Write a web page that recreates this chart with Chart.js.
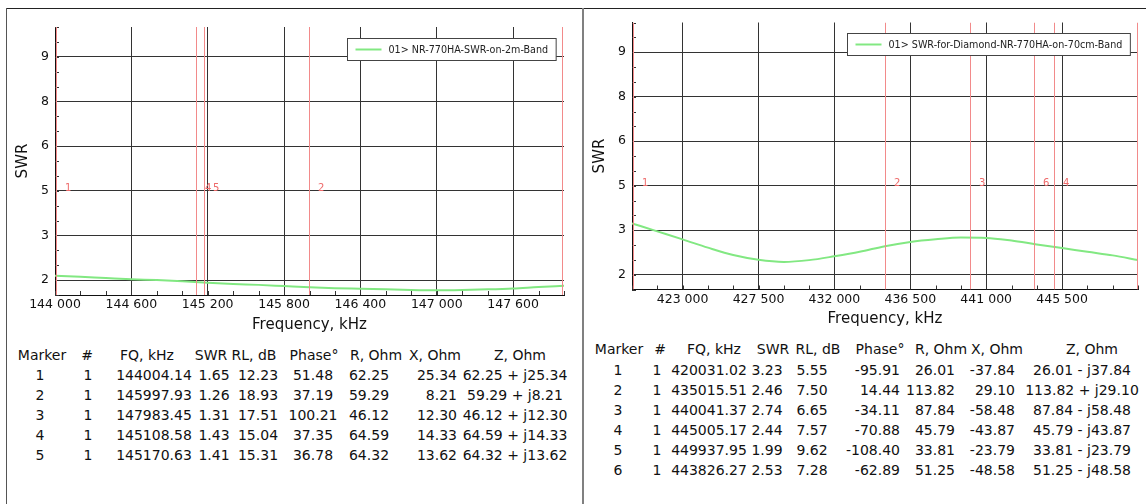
<!DOCTYPE html>
<html><head><meta charset="utf-8">
<script src="https://cdn.jsdelivr.net/npm/chart.js@4/dist/chart.umd.min.js"></script>
<style>
html,body{margin:0;padding:0;background:#fff;width:1146px;height:504px;overflow:hidden;font-family:"DejaVu Sans",sans-serif;}
#frameTop{position:absolute;left:6px;top:8px;width:1140px;height:1px;background:#222;}
#frameLeft{position:absolute;left:6px;top:8px;width:1px;height:496px;background:#555;}
#sep{position:absolute;left:582px;top:8px;width:2px;height:496px;background:#808080;}
.cv{position:absolute;}
.cell{position:absolute;font-size:14px;color:#111;white-space:pre;line-height:18px;height:18px;}
</style></head><body>
<div id="frameTop"></div><div id="frameLeft"></div><div id="sep"></div>
<div class="cv" style="left:8px;top:9px;width:572px;height:330px;"><canvas id="c1" width="572" height="330"></canvas></div>
<div class="cv" style="left:585px;top:9px;width:561px;height:330px;"><canvas id="c2" width="561" height="330"></canvas></div>
<div id="tables"></div>
<script>
// ---------- data: 2m band ----------
const leftLabel = '01> NR-770HA-SWR-on-2m-Band';
const leftFreq = [144000,144200,144400,144600,144800,145000,145200,145400,145600,145800,146000,146200,146400,146600,146800,147000,147200,147400,147600,147800,148000];
const leftSwr  = [1.65,1.61,1.57,1.53,1.50,1.46,1.41,1.37,1.34,1.30,1.26,1.23,1.21,1.19,1.17,1.16,1.17,1.19,1.22,1.27,1.31];
const leftXTicks = [144000,144600,145200,145800,146400,147000,147600];
const leftXTickLabels = ['144 000','144 600','145 200','145 800','146 400','147 000','147 600'];

// ---------- data: 70cm band ----------
const rightLabel = '01> SWR-for-Diamond-NR-770HA-on-70cm-Band';
const rightFreq = [420000,421500,423000,424500,426000,427500,429000,430500,432000,433500,435000,436500,438000,439500,441000,442500,444000,445500,447000,448500,450000];
const rightSwr  = [3.23,2.96,2.69,2.41,2.16,2.00,1.93,1.99,2.12,2.27,2.46,2.60,2.69,2.75,2.74,2.65,2.52,2.40,2.27,2.15,1.99];
const rightXTicks = [423000,427500,432000,436500,441000,445500];
const rightXTickLabels = ['423 000','427 500','432 000','436 500','441 000','445 500'];

// ---------- shared y axis ----------
const yTicks = [1.5,3,4.5,6,7.5,9];
const yTickLabels = ['2','3','5','6','8','9'];

// ---------- marker tables ----------
const tableHeaders = ['Marker','#','FQ, kHz','SWR','RL, dB','Phase°','R, Ohm','X, Ohm','Z, Ohm'];

const leftMarkers = [1,2,3,4,5];
const leftMarkerSet = [1,1,1,1,1];
const leftMarkerFq = [144004.14,145997.93,147983.45,145108.58,145170.63];
const leftMarkerSwr = [1.65,1.26,1.31,1.43,1.41];
const leftMarkerRl = [12.23,18.93,17.51,15.04,15.31];
const leftMarkerPhase = [51.48,37.19,100.21,37.35,36.78];
const leftMarkerR = [62.25,59.29,46.12,64.59,64.32];
const leftMarkerX = [25.34,8.21,12.30,14.33,13.62];

const rightMarkers = [1,2,3,4,5,6];
const rightMarkerSet = [1,1,1,1,1,1];
const rightMarkerFq = [420031.02,435015.51,440041.37,445005.17,449937.95,443826.27];
const rightMarkerSwr = [3.23,2.46,2.74,2.44,1.99,2.53];
const rightMarkerRl = [5.55,7.50,6.65,7.57,9.62,7.28];
const rightMarkerPhase = [-95.91,14.44,-34.11,-70.88,-108.40,-62.89];
const rightMarkerR = [26.01,113.82,87.84,45.79,33.81,51.25];
const rightMarkerX = [-37.84,29.10,-58.48,-43.87,-23.79,-48.58];

// ---------- styling ----------
const FONT = '"DejaVu Sans", sans-serif';
const GREEN = '#82e882';
const MARKER_RED = '#f28a8a';

const overlay = {
  id: 'overlay',
  afterDatasetsDraw(chart, args, o) {
    const {ctx, chartArea: ca, scales: {x, y}} = chart;
    ctx.save();
    ctx.strokeStyle = '#333'; ctx.lineWidth = 1;
    ctx.beginPath();
    for (let v = x.min; v <= x.max + 1e-6; v += o.xMinor) {
      const px = Math.round(x.getPixelForValue(v)) + 0.5;
      ctx.moveTo(px, ca.bottom); ctx.lineTo(px, ca.bottom - 4);
    }
    for (let v = y.min; v <= y.max + 1e-6; v += 0.5) {
      const py = Math.round(y.getPixelForValue(v)) + 0.5;
      ctx.moveTo(ca.left, py); ctx.lineTo(ca.left + 4, py);
    }
    ctx.stroke();
    ctx.beginPath(); ctx.rect(ca.left - 1, ca.top, ca.width + 1, ca.height); ctx.clip();
    ctx.strokeStyle = MARKER_RED; ctx.lineWidth = 1;
    ctx.fillStyle = '#ee6a6a';
    ctx.font = '10px ' + FONT; ctx.textBaseline = 'middle'; ctx.textAlign = 'left';
    const ly = y.getPixelForValue(4.5) - 2;
    o.markers.forEach((f, i) => {
      const px = Math.round(x.getPixelForValue(f)) + 0.5;
      ctx.beginPath(); ctx.moveTo(px, ca.top); ctx.lineTo(px, ca.bottom); ctx.stroke();
      ctx.fillText(String(o.markerNames[i]), px + 8.5, ly);
    });
    ctx.restore();
    ctx.save();
    const label = chart.data.datasets[0].label;
    ctx.font = '9.6px ' + FONT;
    const tw = ctx.measureText(label).width;
    const bw = 8 + 26 + 7 + tw + 8, bh = 22;
    const bx = Math.round(ca.right - o.legRight - bw) + 0.5, by = Math.round(ca.top + o.legTop) + 0.5;
    ctx.fillStyle = '#fff'; ctx.fillRect(bx, by, bw, bh);
    ctx.strokeStyle = '#444'; ctx.lineWidth = 1; ctx.strokeRect(bx, by, bw, bh);
    ctx.strokeStyle = GREEN; ctx.lineWidth = 2;
    ctx.beginPath(); ctx.moveTo(bx + 8, by + bh / 2); ctx.lineTo(bx + 34, by + bh / 2); ctx.stroke();
    ctx.fillStyle = '#222'; ctx.textBaseline = 'middle'; ctx.textAlign = 'left';
    ctx.fillText(label, bx + 41, by + bh / 2 + 0.5);
    ctx.restore();
  }
};

function makeChart(id, freq, swr, label, xMin, xMax, xTicks, xTickLabels, cfg) {
  return new Chart(document.getElementById(id), {
    type: 'line',
    data: { datasets: [{ label, data: freq.map((f, i) => ({x: f, y: swr[i]})),
      borderColor: GREEN, borderWidth: 2, pointRadius: 0, cubicInterpolationMode: 'monotone', fill: false }] },
    options: {
      responsive: false, animation: false, devicePixelRatio: 1,
      layout: { padding: { top: cfg.padTop, right: cfg.padRight, left: 0, bottom: 0 } },
      plugins: { legend: { display: false }, tooltip: { enabled: false },
        overlay: { xMinor: cfg.xMinor, markers: cfg.markers, markerNames: cfg.markerNames, legRight: cfg.legRight, legTop: cfg.legTop } },
      scales: {
        x: { type: 'linear', min: xMin, max: xMax,
          afterBuildTicks: s => { s.ticks = xTicks.map(v => ({value: v})); },
          afterFit: s => { s.height = cfg.xHeight; },
          ticks: { callback: (v, i) => xTickLabels[i], color: '#111', padding: 2.5, maxRotation: 0, autoSkip: false,
            font: { family: FONT, size: 12.5, lineHeight: 1.2 } },
          grid: { color: '#333', lineWidth: 1, drawTicks: false },
          border: { display: true, color: '#111', width: 1 },
          title: { display: true, text: 'Frequency, kHz', color: '#111', font: { family: FONT, size: 15, lineHeight: 1.2 }, padding: { top: 0, bottom: cfg.xTitlePad } } },
        y: { type: 'linear', min: 1, max: 10,
          afterBuildTicks: s => { s.ticks = yTicks.map(v => ({value: v})); },
          afterFit: s => { s.width = 47; },
          ticks: { callback: (v, i) => yTickLabels[i], color: '#111', padding: 6, autoSkip: false,
            font: { family: FONT, size: 12.5, lineHeight: 1.2 } },
          grid: { color: '#333', lineWidth: 1, drawTicks: false },
          border: { display: true, color: '#111', width: 1 },
          title: { display: true, text: 'SWR', color: '#111', font: { family: FONT, size: 15, lineHeight: 1.2 }, padding: { top: 6.5, bottom: 0 } } }
      }
    },
    plugins: [overlay]
  });
}

makeChart('c1', leftFreq, leftSwr, leftLabel, 144000, 148000, leftXTicks, leftXTickLabels,
  { padTop: 18, padRight: 16, xHeight: 44, xTitlePad: 5, xMinor: 200, markers: leftMarkerFq, markerNames: leftMarkers, legRight: 8, legTop: 11 });
makeChart('c2', rightFreq, rightSwr, rightLabel, 420000, 450000, rightXTicks, rightXTickLabels,
  { padTop: 13, padRight: 8, xHeight: 49.5, xTitlePad: 11, xMinor: 1500, markers: rightMarkerFq, markerNames: rightMarkers, legRight: 8.5, legTop: 10.5 });

// ---------- tables ----------
function zStr(r, x) { return r.toFixed(2) + (x < 0 ? ' - j' : ' + j') + Math.abs(x).toFixed(2); }
function buildTable(t) {
  const host = document.getElementById('tables');
  function put(text, anchor, align, yc) {
    const d = document.createElement('div');
    d.className = 'cell';
    d.textContent = text;
    d.style.top = (yc - 9) + 'px';
    d.style.width = '200px';
    d.style.textAlign = align;
    d.style.left = (align === 'right' ? anchor - 200 : anchor - 100) + 'px';
    host.appendChild(d);
  }
  tableHeaders.forEach((h, i) => put(h, t.headX[i], 'center', t.headY));
  t.markers.forEach((m, r) => {
    const yc = t.rowY0 + r * t.rowStep;
    const vals = [String(m), String(t.set[r]), t.fq[r].toFixed(2), t.swr[r].toFixed(2), t.rl[r].toFixed(2),
      t.phase[r].toFixed(2), t.R[r].toFixed(2), t.X[r].toFixed(2), zStr(t.R[r], t.X[r])];
    vals.forEach((v, c) => put(v, t.valX[c], t.valAlign[c], yc));
  });
}
buildTable({ markers: leftMarkers, set: leftMarkerSet, fq: leftMarkerFq, swr: leftMarkerSwr, rl: leftMarkerRl,
  phase: leftMarkerPhase, R: leftMarkerR, X: leftMarkerX,
  headX: [42,87,147,211,254,314,376,435,520], headY: 355,
  valX: [40,88,154,214,258,313,369,457,515], valAlign: ['center','center','center','center','center','center','center','right','center'],
  rowY0: 375, rowStep: 20 });
buildTable({ markers: rightMarkers, set: rightMarkerSet, fq: rightMarkerFq, swr: rightMarkerSwr, rl: rightMarkerRl,
  phase: rightMarkerPhase, R: rightMarkerR, X: rightMarkerX,
  headX: [619,660,714,773,818,880,941,997,1092], headY: 349,
  valX: [618,657,709,767,812,900,955,1015,1082], valAlign: ['center','center','center','center','center','right','right','right','center'],
  rowY0: 370, rowStep: 20 });
</script>
</body></html>
